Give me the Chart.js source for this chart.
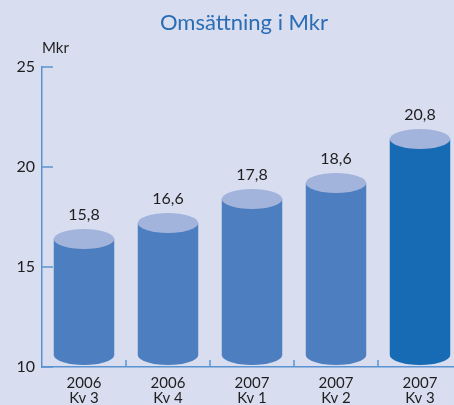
<!DOCTYPE html>
<html>
<head>
<meta charset="utf-8">
<script src="https://cdn.jsdelivr.net/npm/chart.js@4"></script>
<style>
  html, body { margin: 0; padding: 0; overflow: hidden; background: #d9ddf0; }
  #wrap { width: 462px; height: 405px; }
</style>
</head>
<body>
<div id="wrap"><canvas id="revenueChart" width="462" height="405"></canvas></div>
<script>
// data
const categories = [["2006", "Kv 3"], ["2006", "Kv 4"], ["2007", "Kv 1"], ["2007", "Kv 2"], ["2007", "Kv 3"]];
const revenue = [15.8, 16.6, 17.8, 18.6, 20.8];
const yTicks = [10, 15, 20, 25];

const sideColors = ["#4d7fc0", "#4d7fc0", "#4d7fc0", "#4d7fc0", "#176ab4"];
const topColor = "#a3b4dc";
const axisColor = "#5b93d1";
const textColor = "#1e1e1e";
const lift = 12; // cylinders sit a bit above the axis

const cylinders = {
    id: "cylinders",
    beforeDatasetsDraw(chart) {
        chart.ctx.save();
        chart.ctx.translate(0, -lift);
    },
    afterDatasetsDraw(chart) {
        const ctx = chart.ctx;
        const meta = chart.getDatasetMeta(0);
        const basePx = chart.scales.y.getPixelForValue(yTicks[0]);
        const bars = meta.data.map(b => b.getProps(["x", "y", "width"], true));
        ctx.restore();
        ctx.save();
        bars.forEach((bar, i) => {
            const rx = bar.width / 2;
            const ry = 10;
            // bottom rounded edge
            ctx.fillStyle = sideColors[i];
            ctx.beginPath();
            ctx.ellipse(bar.x, basePx - lift, rx, ry, 0, 0, Math.PI);
            ctx.closePath();
            ctx.fill();
            // top face
            ctx.fillStyle = topColor;
            ctx.beginPath();
            ctx.ellipse(bar.x, bar.y - lift, rx, ry, 0, 0, Math.PI * 2);
            ctx.fill();
        });

        // value labels
        ctx.fillStyle = textColor;
        ctx.font = "16px Lato";
        ctx.textAlign = "center";
        ctx.textBaseline = "alphabetic";
        bars.forEach((bar, i) => {
            ctx.fillText(revenue[i].toFixed(1).replace(".", ","), bar.x, bar.y - lift - 19);
        });
        ctx.restore();
    },
    afterDraw(chart) {
        const ctx = chart.ctx;
        const area = chart.chartArea;
        const x = chart.scales.x;
        const y = chart.scales.y;
        ctx.save();
        ctx.strokeStyle = axisColor;
        ctx.lineWidth = 1.5;
        // inner ticks on y
        yTicks.forEach(t => {
            const py = y.getPixelForValue(t);
            ctx.beginPath();
            ctx.moveTo(area.left, py);
            ctx.lineTo(area.left + 11, py);
            ctx.stroke();
        });
        // ticks between categories
        for (let i = 0; i < categories.length - 1; i++) {
            const px = (x.getPixelForValue(i) + x.getPixelForValue(i + 1)) / 2;
            ctx.beginPath();
            ctx.moveTo(px, area.bottom);
            ctx.lineTo(px, area.bottom - 7);
            ctx.stroke();
        }
        // title and unit
        ctx.fillStyle = "#2a6db5";
        ctx.font = "22px Lato";
        ctx.textAlign = "center";
        ctx.fillText("Omsättning i Mkr", 244, 30);
        ctx.fillStyle = textColor;
        ctx.font = "15px Lato";
        ctx.textAlign = "left";
        ctx.fillText("Mkr", 42, 53);
        ctx.restore();
    }
};

new Chart(document.getElementById("revenueChart"), {
    type: "bar",
    data: {
        labels: categories,
        datasets: [{
            data: revenue,
            backgroundColor: sideColors,
            borderWidth: 0,
            barPercentage: 0.72,
            categoryPercentage: 1
        }]
    },
    options: {
        responsive: false,
        animation: false,
        layout: { padding: { top: 67, left: 0, right: 0, bottom: 0 } },
        plugins: {
            legend: { display: false },
            tooltip: { enabled: false }
        },
        scales: {
            x: {
                grid: { display: false },
                border: { color: axisColor, width: 1.5 },
                ticks: {
                    color: textColor,
                    font: { family: "Lato", size: 15, lineHeight: 1.0 },
                    padding: 1,
                    maxRotation: 0
                },
                afterFit(scale) { scale.height = 38; }
            },
            y: {
                min: 10,
                max: 25,
                afterBuildTicks(scale) { scale.ticks = yTicks.map(v => ({ value: v })); },
                grid: { drawOnChartArea: false, drawTicks: false },
                border: { color: axisColor, width: 1.5 },
                ticks: {
                    color: textColor,
                    font: { family: "Lato", size: 16 },
                    padding: 7
                },
                afterFit(scale) { scale.width = 42; }
            }
        }
    },
    plugins: [cylinders]
});
</script>
</body>
</html>
